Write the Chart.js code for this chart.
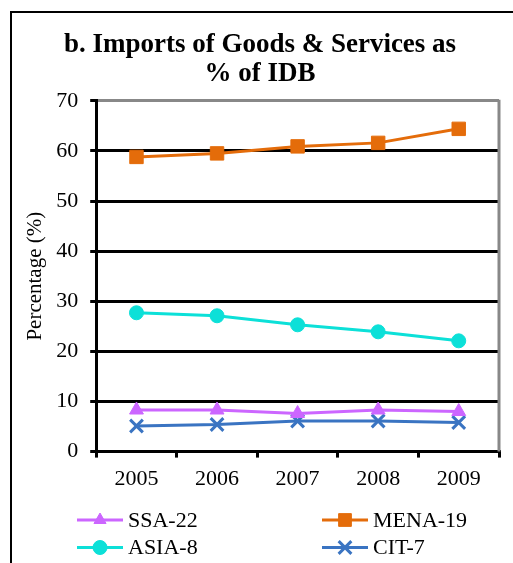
<!DOCTYPE html>
<html>
<head>
<meta charset="utf-8">
<script src="https://cdn.jsdelivr.net/npm/chart.js@4/dist/chart.umd.min.js"></script>
<style>
  html, body { margin: 0; padding: 0; background: #fff; }
  #wrap { position: relative; width: 513px; height: 563px; }
</style>
</head>
<body>
<div id="wrap"><canvas id="c" width="513" height="563"></canvas></div>
<script>
const titleLines = ["b. Imports of Goods & Services as", "% of IDB"];
const yAxisTitle = "Percentage (%)";
const years = ["2005", "2006", "2007", "2008", "2009"];
const seriesNames = ["SSA-22", "MENA-19", "ASIA-8", "CIT-7"];
const ssa22 = [8.3, 8.3, 7.6, 8.3, 8.0];
const mena19 = [58.8, 59.5, 60.9, 61.6, 64.4];
const asia8 = [27.7, 27.1, 25.3, 23.9, 22.1];
const cit7 = [5.1, 5.4, 6.1, 6.1, 5.8];
const yMin = 0, yMax = 70, yStep = 10;

const FONT = "'Liberation Serif', 'Times New Roman', serif";

const styles = [
  { color: '#CC66FF', point: 'triangle', radius: 8, legendRadius: 7 },
  { color: '#E46C0A', point: 'rect', radius: 9.5, legendRadius: 9 },
  { color: '#0CE0D8', point: 'circle', radius: 7, legendRadius: 7 },
  { color: '#3A74C2', point: 'crossRot', radius: 9, legendRadius: 9 }
];
const values = [ssa22, mena19, asia8, cit7];

const datasets = values.map((v, i) => ({
  label: seriesNames[i],
  data: v,
  borderColor: styles[i].color,
  backgroundColor: styles[i].color,
  borderWidth: 3,
  pointStyle: styles[i].point,
  pointRadius: styles[i].radius,
  pointBorderWidth: styles[i].point === 'crossRot' ? 3 : 1,
  pointBorderColor: styles[i].color,
  pointBackgroundColor: styles[i].color,
  tension: 0,
  fill: false
}));

const framePlugin = {
  id: 'frame',
  beforeDraw(chart) {
    const ctx = chart.ctx;
    ctx.save();
    ctx.fillStyle = '#fff';
    ctx.fillRect(0, 0, chart.width, chart.height);
    ctx.strokeStyle = '#000';
    ctx.lineWidth = 2;
    ctx.beginPath();
    ctx.moveTo(11, chart.height + 5);
    ctx.lineTo(11, 12);
    ctx.lineTo(chart.width + 5, 12);
    ctx.stroke();
    ctx.restore();
  },
  beforeDatasetsDraw(chart) {
    const ctx = chart.ctx, a = chart.chartArea;
    ctx.save();
    ctx.strokeStyle = '#888';
    ctx.lineWidth = 3;
    ctx.beginPath();
    ctx.moveTo(a.right, a.top - 1);
    ctx.lineTo(a.right, a.bottom);
    ctx.stroke();
    ctx.restore();
  }
};

const legendPlugin = {
  id: 'gridLegend',
  afterDraw(chart) {
    const ctx = chart.ctx;
    ctx.save();
    chart.data.datasets.forEach((ds, i) => {
      const col = i % 2, row = Math.floor(i / 2);
      const x0 = 77 + col * 245;
      const y = 520 + row * 27.5;
      ctx.strokeStyle = ds.borderColor;
      ctx.lineWidth = 3;
      ctx.beginPath();
      ctx.moveTo(x0, y);
      ctx.lineTo(x0 + 46, y);
      ctx.stroke();
      ctx.fillStyle = ds.pointBackgroundColor;
      ctx.strokeStyle = ds.pointBorderColor;
      ctx.lineWidth = ds.pointBorderWidth;
      Chart.helpers.drawPoint(ctx, {
        pointStyle: ds.pointStyle,
        radius: styles[i].legendRadius,
        rotation: 0,
        borderWidth: ds.pointBorderWidth
      }, x0 + 23, y);
      ctx.fillStyle = '#000';
      ctx.font = "22px " + FONT;
      ctx.textAlign = 'left';
      ctx.textBaseline = 'middle';
      ctx.fillText(ds.label, x0 + 51, y + 1);
    });
    ctx.restore();
  }
};

new Chart(document.getElementById('c'), {
  type: 'line',
  data: { labels: years, datasets },
  plugins: [framePlugin, legendPlugin],
  options: {
    responsive: false,
    animation: false,
    devicePixelRatio: 1,
    layout: { padding: { left: 21, right: 14, top: 14, bottom: 63 } },
    plugins: {
      legend: { display: false },
      tooltip: { enabled: false },
      title: {
        display: true,
        text: titleLines,
        color: '#000',
        font: { family: FONT, size: 27, weight: 'bold', lineHeight: 1.07 },
        padding: { top: 17, bottom: 12 }
      }
    },
    scales: {
      x: {
        offset: true,
        grid: {
          offset: true,
          drawOnChartArea: false,
          drawTicks: true,
          tickLength: 6,
          color: '#000',
          lineWidth: 3
        },
        border: { color: '#000', width: 3 },
        ticks: { color: '#000', padding: 8, font: { family: FONT, size: 22 } }
      },
      y: {
        min: yMin,
        max: yMax,
        ticks: { stepSize: yStep, color: '#000', padding: 12, font: { family: FONT, size: 22 } },
        grid: {
          color: (c) => (c.tick && c.tick.value === yMax) ? '#888' : '#000',
          tickColor: '#000',
          lineWidth: 3,
          tickLength: 6
        },
        border: { color: '#000', width: 3 },
        title: {
          display: true,
          text: yAxisTitle,
          color: '#000',
          font: { family: FONT, size: 21 },
          padding: { top: 2, bottom: -4 }
        }
      }
    }
  }
});
</script>
</body>
</html>
